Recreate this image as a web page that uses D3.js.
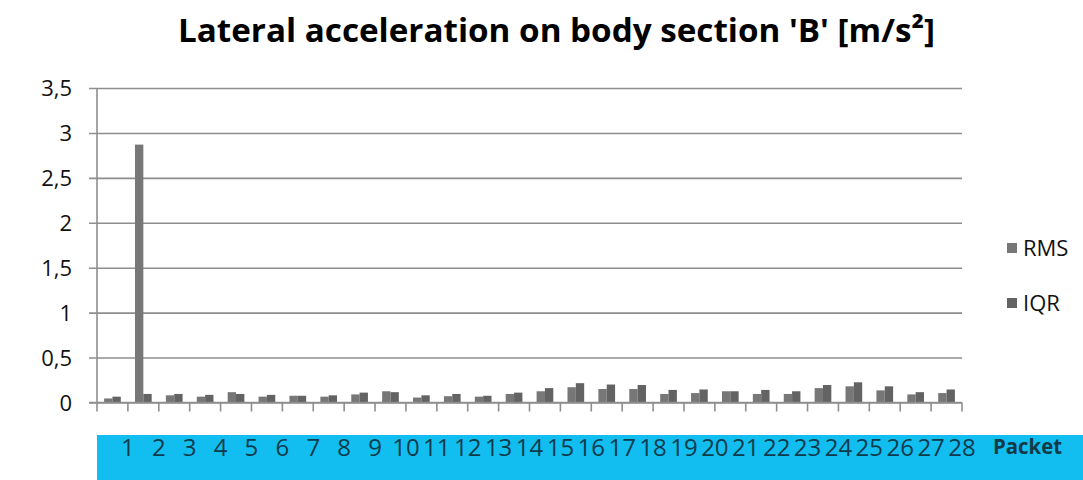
<!DOCTYPE html>
<html>
<head>
<meta charset="utf-8">
<script src="https://cdn.jsdelivr.net/npm/d3@7"></script>
<style>
  html, body { margin: 0; padding: 0; background: #fff; }
  svg { display: block; }
</style>
</head>
<body>
<svg id="chart" width="1083" height="480"></svg>
<script>
const categories = ["1","2","3","4","5","6","7","8","9","10","11","12","13","14","15","16","17","18","19","20","21","22","23","24","25","26","27","28"];
const seriesNames = ["RMS", "IQR"];
const rmsValues = [0.045, 2.87, 0.08, 0.065, 0.115, 0.065, 0.075, 0.065, 0.09, 0.125, 0.055, 0.07, 0.065, 0.095, 0.125, 0.17, 0.15, 0.15, 0.095, 0.105, 0.125, 0.095, 0.095, 0.16, 0.18, 0.135, 0.09, 0.105];
const iqrValues = [0.065, 0.095, 0.095, 0.085, 0.095, 0.085, 0.075, 0.08, 0.11, 0.115, 0.08, 0.095, 0.075, 0.11, 0.16, 0.215, 0.2, 0.195, 0.14, 0.145, 0.125, 0.14, 0.125, 0.195, 0.225, 0.18, 0.115, 0.145];
const yTicks = [0, 0.5, 1, 1.5, 2, 2.5, 3, 3.5];
const yTickLabels = ["0", "0,5", "1", "1,5", "2", "2,5", "3", "3,5"];
const titleText = "Lateral acceleration on body section 'B' [m/s²]";
const xAxisTitle = "Packet";

(function () {
const colors = { RMS: "#777777", IQR: "#636363" };
const svg = d3.select("#chart");
const pLeft = 97, pRight = 962, pTop = 88, pBottom = 402.5;

const x = d3.scaleBand().domain(categories).range([pLeft, pRight]).padding(0);
const x1 = d3.scaleBand().domain(seriesNames).range([x.bandwidth() * 0.23, x.bandwidth() * 0.77]).padding(0);
const y = d3.scaleLinear().domain([0, 3.5]).range([pBottom, pTop]);

// title
svg.append("text")
  .attr("x", 178).attr("y", 42)
  .attr("textLength", 757).attr("lengthAdjust", "spacingAndGlyphs")
  .style("font-family", "'Open Sans', sans-serif")
  .style("font-weight", "bold").style("font-size", "33px").attr("fill", "#000")
  .text(titleText);

// gridlines
const yAxis = d3.axisLeft(y).tickValues(yTicks)
  .tickSize(-(pRight - pLeft)).tickSizeOuter(0)
  .tickFormat((d, i) => yTickLabels[i]);
const gy = svg.append("g").attr("transform", `translate(${pLeft},0)`).call(yAxis);
gy.select(".domain").remove();
gy.selectAll(".tick line").attr("x1", -8).attr("stroke", "#8e8e8e").attr("stroke-width", 1.6);
gy.selectAll(".tick text")
  .attr("x", -25).attr("dy", "0.36em")
  .style("font-family", "'Open Sans', sans-serif").style("font-size", "22px").attr("fill", "#111");

// bars
const data = categories.map((c, i) => ({ c, RMS: rmsValues[i], IQR: iqrValues[i] }));
const groups = svg.append("g").selectAll("g").data(data).join("g")
  .attr("transform", d => `translate(${x(d.c)},0)`);
groups.selectAll("rect").data(d => seriesNames.map(s => ({ s, v: d[s] }))).join("rect")
  .attr("x", d => x1(d.s)).attr("width", x1.bandwidth())
  .attr("y", d => y(d.v)).attr("height", d => y(0) - y(d.v))
  .attr("fill", d => colors[d.s]);

// axes lines
svg.append("line").attr("x1", pLeft).attr("x2", pLeft).attr("y1", pTop).attr("y2", pBottom + 9)
  .attr("stroke", "#8e8e8e").attr("stroke-width", 1.6);
svg.append("line").attr("x1", pLeft - 8).attr("x2", pRight).attr("y1", pBottom).attr("y2", pBottom)
  .attr("stroke", "#8e8e8e").attr("stroke-width", 1.6);
svg.append("g").selectAll("line").data(categories).join("line")
  .attr("x1", d => x(d) + x.bandwidth()).attr("x2", d => x(d) + x.bandwidth())
  .attr("y1", pBottom).attr("y2", pBottom + 9)
  .attr("stroke", "#8e8e8e").attr("stroke-width", 1.6);

// cyan band
svg.append("rect").attr("x", 97).attr("y", 435).attr("width", 1083 - 97).attr("height", 45).attr("fill", "#12BEF0");

// labels on band
svg.append("g").selectAll("text").data(categories).join("text")
  .attr("x", d => x(d) + x.bandwidth()).attr("y", 456)
  .attr("text-anchor", "middle")
  .style("font-family", "'Open Sans', sans-serif").style("font-size", "24px")
  .attr("fill", "#0d3b4b").text(d => d);

svg.append("text").attr("x", 993).attr("y", 454)
  .attr("textLength", 69).attr("lengthAdjust", "spacingAndGlyphs")
  .style("font-family", "'Open Sans', sans-serif").style("font-weight", "bold").style("font-size", "21px")
  .attr("fill", "#123a47").text(xAxisTitle);

// legend
const legend = svg.append("g").selectAll("g").data(seriesNames).join("g")
  .attr("transform", (d, i) => `translate(1007,${243 + i * 55})`);
legend.append("rect").attr("width", 10).attr("height", 10).attr("fill", d => colors[d]);
legend.append("text").attr("x", 16).attr("y", 13)
  .style("font-family", "'Open Sans', sans-serif").style("font-size", "22px")
  .attr("fill", "#111").text(d => d);
})();
</script>
</body>
</html>
